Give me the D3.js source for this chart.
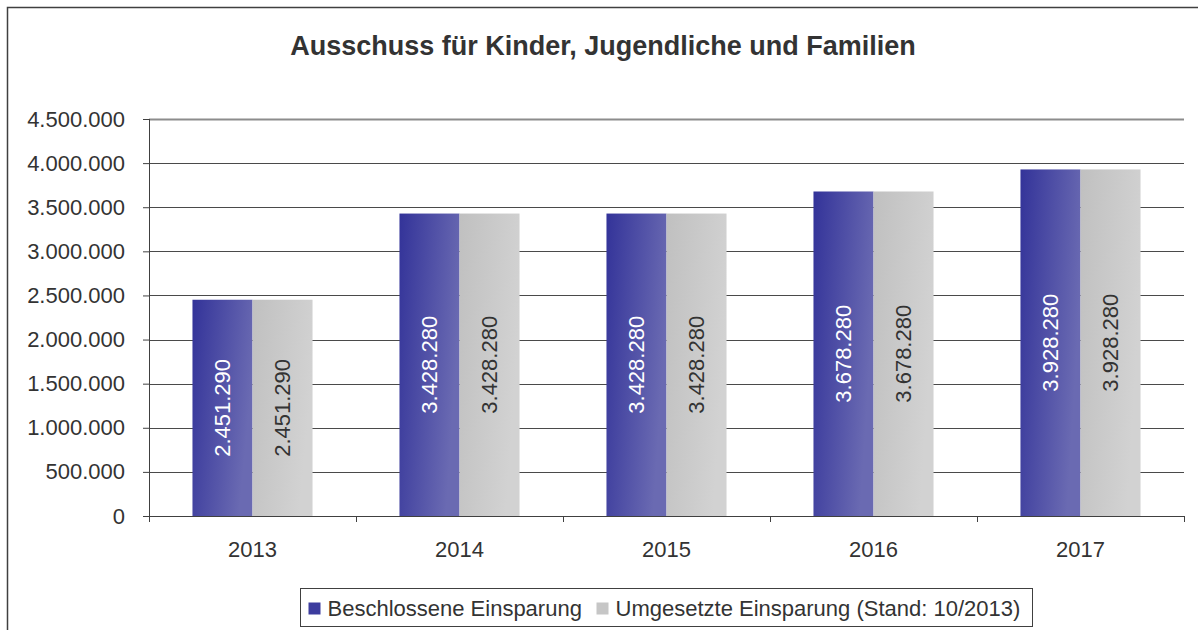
<!DOCTYPE html>
<html>
<head>
<meta charset="utf-8">
<script src="https://cdn.jsdelivr.net/npm/d3@7"></script>
<style>
  body { margin: 0; background: #fff; }
  svg { display: block; font-family: "Liberation Sans", Arial, sans-serif; }
</style>
</head>
<body>
<svg id="chart"></svg>
<script>
// chart data
const years = ["2013", "2014", "2015", "2016", "2017"];
const beschlossen = [2451290, 3428280, 3428280, 3678280, 3928280];
const umgesetzt = [2451290, 3428280, 3428280, 3678280, 3928280];
const seriesNames = ["Beschlossene Einsparung", "Umgesetzte Einsparung (Stand: 10/2013)"];
const yTicks = [0, 500000, 1000000, 1500000, 2000000, 2500000, 3000000, 3500000, 4000000, 4500000];

const width = 1198, height = 630;
const margin = { top: 119, right: 14, bottom: 114, left: 149 };
const innerW = width - margin.left - margin.right;
const innerH = height - margin.top - margin.bottom;

const fmt = d3.formatLocale({ decimal: ",", thousands: ".", grouping: [3], currency: ["", "€"] }).format(",d");

const svg = d3.select("#chart").attr("width", width).attr("height", height);

// gradients
const defs = svg.append("defs");
const gBlue = defs.append("linearGradient").attr("id", "gBlue")
  .attr("x1", 0).attr("y1", 0).attr("x2", 1).attr("y2", 0.35);
gBlue.append("stop").attr("offset", "0%").attr("stop-color", "#333399");
gBlue.append("stop").attr("offset", "100%").attr("stop-color", "#6a6ab2");
const gGrey = defs.append("linearGradient").attr("id", "gGrey")
  .attr("x1", 0).attr("y1", 0).attr("x2", 1).attr("y2", 0.35);
gGrey.append("stop").attr("offset", "0%").attr("stop-color", "#c0c0c0");
gGrey.append("stop").attr("offset", "100%").attr("stop-color", "#d2d2d2");
const fills = ["url(#gBlue)", "url(#gGrey)"];
const legendFills = ["#3c3c9e", "#c6c6c6"];

// outer frame (continues past the right/bottom edge)
svg.append("rect")
  .attr("x", 7.5).attr("y", 7.5)
  .attr("width", width + 10).attr("height", height + 10)
  .attr("fill", "none").attr("stroke", "#404040").attr("stroke-width", 1.5);

// title
svg.append("text")
  .attr("x", 603).attr("y", 55)
  .attr("text-anchor", "middle")
  .attr("font-size", 27).attr("font-weight", "bold").attr("fill", "#333")
  .text("Ausschuss für Kinder, Jugendliche und Familien");

const chart = svg.append("g").attr("transform", `translate(${margin.left},${margin.top})`);

const x0 = d3.scaleBand().domain(years).range([0, innerW]).paddingInner(0.42).paddingOuter(0.21);
const x1 = d3.scaleBand().domain([0, 1]).range([0, x0.bandwidth()]);
const y = d3.scaleLinear().domain([0, 4500000]).range([innerH, 0]);

// gridlines
chart.append("g").selectAll("line")
  .data(yTicks.slice(1))
  .join("line")
  .attr("x1", 0).attr("x2", innerW)
  .attr("y1", d => Math.round(y(d)) + 0.5).attr("y2", d => Math.round(y(d)) + 0.5)
  .attr("stroke", d => d === 4500000 ? "#8c8c8c" : "#4a4a4a")
  .attr("stroke-width", d => d === 4500000 ? 2 : 1);

// bars
const groups = chart.append("g").selectAll("g")
  .data(years)
  .join("g")
  .attr("transform", d => `translate(${x0(d)},0)`);

const rows = (d, i) => [
  { s: 0, v: beschlossen[i] },
  { s: 1, v: umgesetzt[i] }
];

groups.selectAll("rect")
  .data(rows)
  .join("rect")
  .attr("x", d => x1(d.s))
  .attr("y", d => y(d.v))
  .attr("width", x1.bandwidth())
  .attr("height", d => innerH - y(d.v))
  .attr("fill", d => fills[d.s]);

groups.selectAll("text")
  .data(rows)
  .join("text")
  .attr("transform", d => `translate(${x1(d.s) + x1.bandwidth() / 2},${(y(d.v) + innerH) / 2}) rotate(-90)`)
  .attr("text-anchor", "middle")
  .attr("dy", "0.36em")
  .attr("font-size", 22)
  .attr("fill", d => d.s === 0 ? "#ffffff" : "#333333")
  .text(d => fmt(d.v));

// axes
const xAxis = chart.append("g")
  .attr("transform", `translate(0,${innerH})`)
  .call(d3.axisBottom(x0).tickSize(0).tickPadding(0));
xAxis.select(".domain").attr("stroke", "#404040").attr("d", `M0.5,0.5H${innerW}`);
xAxis.selectAll(".tick text").attr("font-size", 22).attr("fill", "#333").attr("dy", "1.86em");
// category boundary ticks
xAxis.selectAll(".bound")
  .data(d3.range(years.length + 1))
  .join("line")
  .attr("class", "bound")
  .attr("x1", i => Math.round(i * innerW / years.length) + 0.5)
  .attr("x2", i => Math.round(i * innerW / years.length) + 0.5)
  .attr("y1", 0).attr("y2", 6)
  .attr("stroke", "#404040");

const yAxis = chart.append("g")
  .call(d3.axisLeft(y).tickValues(yTicks).tickFormat(fmt).tickSize(6).tickPadding(18));
yAxis.select(".domain").attr("stroke", "#404040").attr("d", `M0.5,0V${innerH}`);
yAxis.selectAll(".tick line").attr("stroke", "#404040");
yAxis.selectAll(".tick text").attr("font-size", 22).attr("fill", "#333");

// legend
const legend = svg.append("g").attr("transform", "translate(300.5,588.5)");
legend.append("rect")
  .attr("width", 732).attr("height", 38)
  .attr("fill", "#fff").attr("stroke", "#404040");
const lx = [8, 296];
const items = legend.selectAll("g.item")
  .data(seriesNames)
  .join("g")
  .attr("class", "item")
  .attr("transform", (d, i) => `translate(${lx[i]},0)`);
items.append("rect")
  .attr("x", 0).attr("y", 14).attr("width", 12).attr("height", 12)
  .attr("fill", (d, i) => legendFills[i]);
items.append("text")
  .attr("x", 19).attr("y", 27)
  .attr("font-size", 22).attr("fill", "#333")
  .text(d => d);
</script>
</body>
</html>
